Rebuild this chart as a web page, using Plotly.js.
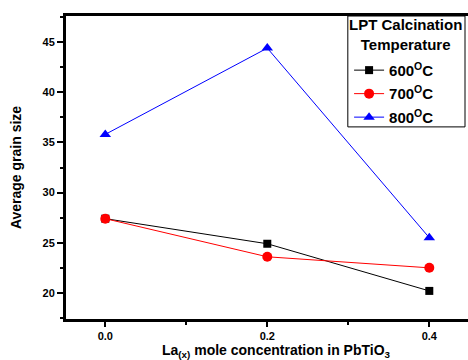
<!DOCTYPE html>
<html>
<head>
<meta charset="utf-8">
<script src="https://cdn.plot.ly/plotly-3.0.1.min.js"></script>
<style>
  html, body { margin: 0; padding: 0; background: #fff; overflow: hidden; }
  #chart { width: 486px; height: 360px; }
</style>
</head>
<body>
<div id="chart"></div>
<script>
// La(x) concentration in PbTiO3
const concentration = [0.0, 0.2, 0.4];

// Average grain size for each calcination temperature
const grain600 = [27.4, 24.9, 20.2];
const grain700 = [27.4, 23.6, 22.5];
const grain800 = [35.8, 44.4, 25.5];

const seriesNames = ['600<sup>O</sup>C', '700<sup>O</sup>C', '800<sup>O</sup>C'];
const legendHeading = 'LPT Calcination<br>Temperature';

const FONT = 'Liberation Sans, Arial, sans-serif';

const traces = [
  {
    x: concentration, y: grain600, name: seriesNames[0], legendgroup: 'g600',
    mode: 'lines+markers',
    line: { color: '#000000', width: 1 },
    marker: { symbol: 'square', size: 8, color: '#000000' }
  },
  {
    x: concentration, y: grain700, name: seriesNames[1], legendgroup: 'g700',
    mode: 'lines+markers',
    line: { color: '#ff0000', width: 1 },
    marker: { symbol: 'circle', size: 10, color: '#ff0000' }
  },
  {
    x: concentration, y: grain800, name: seriesNames[2], legendgroup: 'g800',
    mode: 'lines+markers',
    line: { color: '#0000ff', width: 1 },
    marker: { symbol: 'triangle-up', size: 10, color: '#0000ff' }
  }
];

const layout = {
  width: 486,
  height: 360,
  margin: { l: 66, r: 0, t: 16, b: 41 },
  paper_bgcolor: '#ffffff',
  plot_bgcolor: '#ffffff',
  font: { family: FONT, color: '#000000', size: 11, weight: 'bold' },
  showlegend: true,
  xaxis: {
    range: [-0.0485, 0.470],
    tickvals: [0.0, 0.2, 0.4],
    ticktext: ['0.0', '0.2', '0.4'],
    ticks: 'outside',
    ticklen: 5,
    tickwidth: 2,
    tickcolor: '#000',
    ticklabelstandoff: 0,
    tickfont: { family: FONT, size: 11, weight: 'bold' },
    minor: { tickvals: [0.1, 0.3], ticks: 'outside', ticklen: 3, tickwidth: 2, tickcolor: '#000' },
    showline: true,
    linewidth: 3,
    linecolor: '#000',
    mirror: true,
    showgrid: false,
    zeroline: false,
    title: {
      text: 'La<sub>(x)</sub> mole concentration in PbTiO<sub>3</sub>',
      font: { family: FONT, size: 14, weight: 'bold' },
      standoff: 6
    }
  },
  yaxis: {
    range: [17.4, 47.6],
    tickvals: [20, 25, 30, 35, 40, 45],
    ticks: 'outside',
    ticklen: 6,
    tickwidth: 2,
    tickcolor: '#000',
    tickfont: { family: FONT, size: 11, weight: 'bold' },
    minor: { dtick: 2.5, tick0: 17.5, ticks: 'outside', ticklen: 3, tickwidth: 2, tickcolor: '#000' },
    showline: true,
    linewidth: 3,
    linecolor: '#000',
    mirror: false,
    showgrid: false,
    zeroline: false,
    title: {
      text: 'Average grain size',
      font: { family: FONT, size: 14, weight: 'bold' },
      standoff: 18
    }
  },
  // legend entries sit inside a framed box that also holds the centred heading
  legend: {
    x: 0.674, y: 0.875,
    xanchor: 'left', yanchor: 'top',
    bgcolor: 'rgba(0,0,0,0)',
    borderwidth: 0,
    itemwidth: 30,
    tracegroupgap: 1,
    font: { family: FONT, size: 15, weight: 'bold' }
  },
  shapes: [
    {
      type: 'rect', xref: 'paper', yref: 'paper', layer: 'above',
      x0: 0.671, x1: 0.95, y0: 0.634, y1: 1,
      line: { color: '#000000', width: 1 },
      fillcolor: '#ffffff'
    }
  ],
  annotations: [
    {
      text: legendHeading,
      xref: 'paper', yref: 'paper',
      x: 0.8095, y: 0.94,
      xanchor: 'center', yanchor: 'middle',
      align: 'center',
      showarrow: false,
      font: { family: FONT, size: 15, weight: 'bold' }
    }
  ]
};

Plotly.newPlot('chart', traces, layout, { displayModeBar: false, staticPlot: true });
</script>
</body>
</html>
